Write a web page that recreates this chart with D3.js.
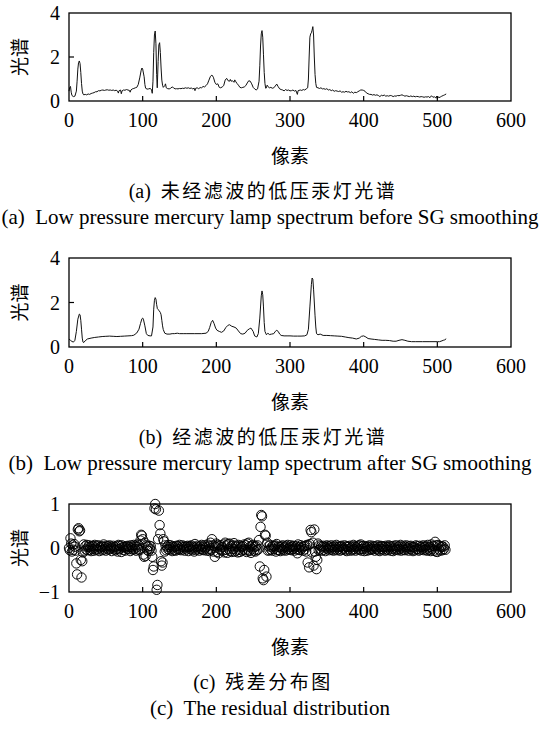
<!DOCTYPE html>
<html>
<head>
<meta charset="utf-8">
<script src="https://cdn.jsdelivr.net/npm/d3@7"></script>
<style>
  html, body { margin: 0; padding: 0; background: #fff; }
  svg text { fill: #000; }
</style>
</head>
<body>
<div id="chart"></div>
<script>
// raw lamp spectrum (a), [pixel, intensity] vertices
const rawSpectrum = [
  [0,0.45],[1,0.62],[2,0.66],[3,0.4],[4,0.25],[6,0.2],[8,0.22],[10,0.45],[11,0.9],[12,1.45],[13,1.75],[14,1.82],[15,1.7],[16,1.3],[17,0.8],[18,0.45],
  [19,0.32],[20,0.28],[22,0.3],[24,0.28],[26,0.32],[28,0.3],[30,0.34],[32,0.36],[34,0.38],[36,0.42],[38,0.42],[40,0.47],[42,0.46],[44,0.49],[46,0.5],[48,0.48],
  [50,0.5],[52,0.51],[54,0.49],[56,0.5],[58,0.48],[60,0.5],[62,0.47],[64,0.49],[66,0.45],[67,0.36],[68,0.47],[70,0.5],[71,0.33],[72,0.46],[74,0.5],[76,0.49],
  [78,0.52],[80,0.5],[82,0.48],[83,0.4],[84,0.5],[86,0.55],[88,0.57],[90,0.6],[92,0.62],[94,0.75],[96,1.05],[98,1.4],[99,1.5],[100,1.45],[102,1.1],[103,0.75],
  [104,0.58],[106,0.54],[108,0.55],[110,0.57],[112,0.52],[113,0.35],[114,0.9],[115,2.2],[116,3.0],[117,3.18],[118,2.6],[119,1.2],[119.8,0.6],[121,1.8],[122,2.55],[123,2.65],
  [124,2.2],[125,1.5],[126,0.95],[127,0.72],[128,0.62],[130,0.7],[131,0.78],[132,0.6],[134,0.56],[136,0.55],[138,0.58],[140,0.64],[142,0.6],[144,0.55],[146,0.56],[148,0.55],
  [150,0.57],[152,0.56],[154,0.58],[156,0.57],[158,0.6],[160,0.58],[162,0.6],[164,0.57],[166,0.59],[168,0.55],[170,0.58],[171,0.47],[172,0.58],[174,0.6],[176,0.56],[178,0.61],
  [180,0.6],[182,0.66],[184,0.64],[186,0.7],[188,0.78],[190,0.95],[192,1.12],[194,1.18],[196,1.08],[198,0.85],[200,0.75],[202,0.78],[204,0.62],[206,0.6],[208,0.64],[210,0.7],
  [212,0.95],[214,1.03],[216,0.92],[218,0.9],[219,0.98],[220,0.9],[222,0.92],[224,0.85],[225,0.96],[226,0.9],[228,0.8],[230,0.72],[232,0.62],[234,0.6],[236,0.62],[238,0.64],
  [240,0.7],[242,0.82],[244,0.92],[246,0.9],[248,0.78],[250,0.62],[252,0.55],[254,0.5],[256,0.55],[258,0.9],[259,1.6],[260,2.5],[261,3.05],[262,3.2],[263,2.9],[264,2.1],
  [265,1.3],[266,0.8],[267,0.58],[268,0.6],[269,0.72],[270,0.66],[272,0.6],[274,0.62],[276,0.58],[278,0.6],[280,0.68],[282,0.77],[284,0.65],[286,0.55],[288,0.52],[290,0.5],
  [292,0.46],[294,0.52],[296,0.48],[298,0.5],[300,0.46],[302,0.47],[304,0.5],[306,0.45],[308,0.48],[310,0.3],[311,0.47],[314,0.5],[316,0.48],[318,0.52],[320,0.5],[322,0.55],
  [324,0.6],[325,1.0],[326,2.0],[327,2.9],[328,3.05],[329,3.1],[330,3.22],[331,3.38],[332,3.0],[333,2.0],[334,1.2],[335,0.8],[336,0.62],[338,0.6],[340,0.57],[342,0.6],
  [344,0.55],[346,0.56],[348,0.53],[350,0.56],[352,0.5],[354,0.52],[356,0.47],[358,0.5],[360,0.44],[362,0.47],[364,0.45],[366,0.43],[368,0.46],[370,0.4],[372,0.42],[374,0.4],
  [376,0.44],[378,0.41],[380,0.42],[382,0.38],[384,0.42],[386,0.35],[388,0.4],[390,0.38],[392,0.42],[394,0.46],[396,0.5],[398,0.5],[400,0.48],[402,0.44],[404,0.36],[406,0.33],
  [408,0.3],[410,0.3],[412,0.27],[414,0.29],[416,0.26],[418,0.28],[420,0.25],[422,0.2],[424,0.26],[426,0.24],[428,0.27],[430,0.22],[432,0.24],[434,0.22],[436,0.25],[438,0.24],
  [440,0.2],[442,0.23],[444,0.22],[446,0.25],[448,0.24],[450,0.26],[452,0.28],[454,0.25],[456,0.22],[458,0.24],[460,0.22],[462,0.2],[464,0.23],[466,0.2],[468,0.22],[470,0.19],
  [472,0.21],[474,0.2],[476,0.18],[478,0.2],[480,0.19],[482,0.17],[484,0.19],[486,0.18],[488,0.2],[490,0.15],[492,0.24],[494,0.17],[496,0.19],[498,0.14],[499,0.22],[500,0.1],
  [501,0.2],[502,0.15],[504,0.18],[506,0.22],[508,0.25],[510,0.28],[512,0.32]
];

// SG smoothed spectrum (b)
const smoothSpectrum = [
  [0,0.36],[2,0.3],[4,0.25],[6,0.22],[8,0.3],[10,0.7],[12,1.25],[14,1.48],[15,1.45],[16,1.2],[17,0.8],[18,0.4],[19,0.22],[20,0.2],[22,0.28],[25,0.36],
  [30,0.4],[35,0.43],[40,0.45],[45,0.47],[50,0.48],[55,0.49],[60,0.48],[65,0.47],[70,0.48],[75,0.49],[80,0.5],[85,0.51],[88,0.53],[92,0.63],[95,0.8],[97,1.05],
  [99,1.27],[100,1.3],[101,1.25],[103,0.95],[105,0.6],[107,0.52],[110,0.5],[112,0.5],[114,0.9],[115,1.7],[116,2.1],[117,2.22],[118,2.15],[119,1.9],[120,1.72],[121,1.68],
  [122,1.65],[124,1.55],[125,1.45],[126,1.2],[127,0.95],[128,0.78],[130,0.62],[133,0.58],[137,0.58],[140,0.6],[143,0.6],[147,0.62],[150,0.6],[155,0.6],[160,0.6],[170,0.6],
  [180,0.6],[186,0.62],[189,0.7],[191,0.88],[193,1.1],[195,1.2],[197,1.05],[199,0.85],[201,0.75],[204,0.7],[207,0.66],[210,0.72],[213,0.88],[216,0.98],[218,1.0],[221,0.93],
  [224,0.9],[227,0.85],[230,0.72],[233,0.6],[236,0.58],[239,0.62],[242,0.75],[245,0.82],[247,0.85],[250,0.7],[252,0.5],[255,0.45],[257,0.6],[259,1.3],[261,2.3],[262,2.52],
  [263,2.35],[264,1.8],[265,1.1],[266,0.7],[268,0.55],[270,0.62],[272,0.56],[275,0.58],[278,0.6],[280,0.7],[282,0.75],[284,0.7],[286,0.58],[288,0.52],[292,0.5],[296,0.5],
  [300,0.5],[305,0.49],[310,0.49],[315,0.49],[320,0.5],[323,0.55],[325,0.8],[327,1.8],[329,2.8],[330,3.1],[331,3.05],[332,2.6],[334,1.4],[335,0.9],[336,0.6],[338,0.55],
  [341,0.58],[345,0.52],[350,0.52],[355,0.51],[360,0.5],[365,0.49],[370,0.48],[375,0.45],[380,0.42],[385,0.4],[390,0.36],[394,0.4],[397,0.48],[400,0.5],[403,0.45],[406,0.38],
  [410,0.36],[415,0.34],[420,0.32],[425,0.3],[430,0.3],[435,0.29],[440,0.26],[444,0.26],[448,0.3],[452,0.33],[456,0.3],[460,0.26],[465,0.24],[470,0.24],[480,0.24],[490,0.24],
  [500,0.24],[503,0.24],[505,0.26],[508,0.3],[510,0.32],[512,0.37]
];

// residual per pixel 0..511 (c), in hundredths
const residualHundredths = [
  0,-5,22,10,-8,6,-4,9,3,-6,-35,-60,42,45,38,40,
  -27,-67,-30,-10,8,-6,4,-3,7,-5,2,6,-4,3,-7,5,
  -2,4,-6,7,1,-4,5,-3,6,-7,2,-1,4,-5,3,8,
  -3,2,-6,5,-1,4,-4,6,-2,3,-7,1,5,-3,2,-5,
  4,-2,-8,7,-3,5,-1,-9,6,2,-4,3,-6,1,4,-2,
  5,-3,2,-7,6,-1,3,-4,7,-2,5,-6,2,8,-3,6,
  -5,17,30,28,20,-15,-20,12,-18,6,-4,3,-7,5,-2,4,
  -6,-20,-50,-42,90,100,88,-95,-84,20,85,52,33,-30,-40,-33,
  20,15,-8,6,-5,3,-2,7,-4,2,6,-3,-7,4,1,-5,
  3,-6,5,-2,4,-4,7,-1,-5,3,6,-3,2,-6,4,1,
  -3,5,-7,2,4,-2,6,-5,3,-1,-8,9,-4,2,5,-3,
  1,-6,4,-2,7,-4,3,-5,6,-1,2,-6,8,-3,5,-7,
  12,-4,20,6,-8,5,-20,3,10,-9,7,-12,4,-3,6,-5,
  2,-6,8,-10,12,-4,6,-11,9,-3,10,-7,4,-9,6,-2,
  11,-8,5,-6,3,-10,7,-4,-9,5,2,-6,4,-3,8,-5,
  6,-9,10,-4,12,-7,3,-11,5,-2,7,-6,3,-8,4,-5,
  6,-3,18,-42,48,75,72,-69,-73,-50,30,28,-65,12,-6,4,
  -5,7,-3,2,-6,5,-2,4,6,-8,9,-4,3,-5,2,-7,
  4,-2,6,-5,1,3,-6,5,-3,7,-1,-4,2,6,-5,3,
  -2,5,-6,1,4,-3,-12,8,-4,2,-5,6,-1,3,-6,4,
  -3,5,-8,7,-33,6,-44,9,41,36,-10,12,-40,42,-8,-20,
  -48,-27,10,-5,6,-3,4,-6,2,5,-4,3,-7,1,6,-2,
  4,-5,3,-1,6,-4,2,-6,5,-3,1,7,-5,2,-2,4,
  -6,3,5,-4,1,-2,6,-5,3,-7,4,2,-3,5,-6,1,
  3,-5,7,-2,4,-6,2,-1,5,-4,6,-3,8,-6,4,-2,
  5,-7,3,-1,-6,4,2,-5,6,-3,1,-4,5,-2,3,-6,
  4,-1,-3,6,-5,2,-7,5,-2,4,-4,3,1,-6,5,-3,
  2,-5,6,-1,4,-6,3,-2,-7,5,1,-4,6,-3,2,-5,
  4,-2,7,-6,3,-1,-4,5,-5,2,6,-3,1,-6,4,-2,
  5,-4,2,-7,3,1,-5,6,-2,4,-3,-6,5,2,-4,3,
  -1,6,-5,2,4,-3,-6,7,1,-4,3,-7,8,-2,5,-6,
  4,14,-8,6,-9,7,-3,5,-6,2,4,-5,3,-2,6,-4
];

const xTicks = [0, 100, 200, 300, 400, 500, 600];
const spectrumTicks = [0, 2, 4];
const residualTicks = [-1, 0, 1];

const yLabel = '光谱';
const xLabel = '像素';
const captionsCn = ['(a)  未经滤波的低压汞灯光谱', '(b)  经滤波的低压汞灯光谱', '(c)  残差分布图'];
const captionsEn = ['(a)  Low pressure mercury lamp spectrum before SG smoothing',
                    '(b)  Low pressure mercury lamp spectrum after SG smoothing',
                    '(c)  The residual distribution'];

const W = 543, H = 734;
const left = 69, right = 511;
const serif = '"Liberation Serif", "Times New Roman", serif';
const cjk = '"Noto Sans CJK SC", sans-serif';

const svg = d3.select('#chart').append('svg')
    .attr('width', W)
    .attr('height', H)
    .attr('viewBox', `0 0 ${W} ${H}`);

const x = d3.scaleLinear().domain([0, 600]).range([left, right]);

const panels = [
    { top: 13, bottom: 101, domain: [0, 4], ticks: spectrumTicks },
    { top: 258, bottom: 347, domain: [0, 4], ticks: spectrumTicks },
    { top: 504, bottom: 592, domain: [-1, 1], ticks: residualTicks }
];

function fmt(v) { return v < 0 ? '\u2212' + Math.abs(v) : String(v); }

panels.forEach((p, i) => {
    const y = d3.scaleLinear().domain(p.domain).range([p.bottom, p.top]);
    const g = svg.append('g');

    // data
    if (i < 2) {
        const line = d3.line().x(d => x(d[0])).y(d => y(d[1]));
        g.append('path')
            .datum(i === 0 ? rawSpectrum : smoothSpectrum)
            .attr('d', line)
            .attr('fill', 'none')
            .attr('stroke', '#111')
            .attr('stroke-width', 1)
            .attr('stroke-linejoin', 'round');
    } else {
        g.append('g').selectAll('circle')
            .data(residualHundredths)
            .join('circle')
            .attr('cx', (d, k) => x(k))
            .attr('cy', d => y(d / 100))
            .attr('r', 4.7)
            .attr('fill', 'none')
            .attr('stroke', '#000')
            .attr('stroke-width', 0.95);
    }

    // frame
    g.append('rect')
        .attr('x', left).attr('y', p.top)
        .attr('width', right - left).attr('height', p.bottom - p.top)
        .attr('fill', 'none')
        .attr('stroke', '#000')
        .attr('stroke-width', 1.3);

    // inward ticks
    g.selectAll('.xt').data(xTicks.slice(1, -1)).join('line')
        .attr('x1', d => x(d)).attr('x2', d => x(d))
        .attr('y1', p.bottom).attr('y2', p.bottom - 5)
        .attr('stroke', '#000').attr('stroke-width', 1.2);
    g.selectAll('.yt').data(p.ticks.slice(1, -1)).join('line')
        .attr('x1', left).attr('x2', left + 5)
        .attr('y1', d => y(d)).attr('y2', d => y(d))
        .attr('stroke', '#000').attr('stroke-width', 1.2);

    // tick labels
    g.selectAll('.xl').data(xTicks).join('text')
        .attr('x', d => x(d))
        .attr('y', p.bottom + 26)
        .attr('text-anchor', 'middle')
        .style('font-family', serif)
        .style('font-size', '20px')
        .text(d => d);
    g.selectAll('.yl').data(p.ticks).join('text')
        .attr('x', 60)
        .attr('y', d => y(d) + 7)
        .attr('text-anchor', 'end')
        .style('font-family', serif)
        .style('font-size', '20px')
        .text(fmt);

    // axis titles
    g.append('text')
        .attr('transform', `translate(27,${(p.top + p.bottom) / 2}) rotate(-90)`)
        .attr('text-anchor', 'middle')
        .style('font-family', cjk)
        .style('font-size', '19px')
        .text(yLabel);
    g.append('text')
        .attr('x', (left + right) / 2)
        .attr('y', p.bottom + 62)
        .attr('text-anchor', 'middle')
        .style('font-family', cjk)
        .style('font-size', '19px')
        .text(xLabel);

    // captions
    const cn = captionsCn[i];
    const cap = g.append('text')
        .attr('x', 263)
        .attr('y', p.bottom + 97)
        .attr('text-anchor', 'middle')
        .attr('xml:space', 'preserve')
        .style('font-family', serif)
        .style('font-size', '20px');
    cap.append('tspan').text(cn.slice(0, 5));
    cap.append('tspan')
        .style('font-family', cjk)
        .style('font-size', '19px')
        .style('letter-spacing', '2.5px')
        .text(cn.slice(5));
    g.append('text')
        .attr('x', 270)
        .attr('y', p.bottom + 123)
        .attr('text-anchor', 'middle')
        .attr('xml:space', 'preserve')
        .style('font-family', serif)
        .style('font-size', '21px')
        .text(captionsEn[i]);
});
</script>
</body>
</html>
